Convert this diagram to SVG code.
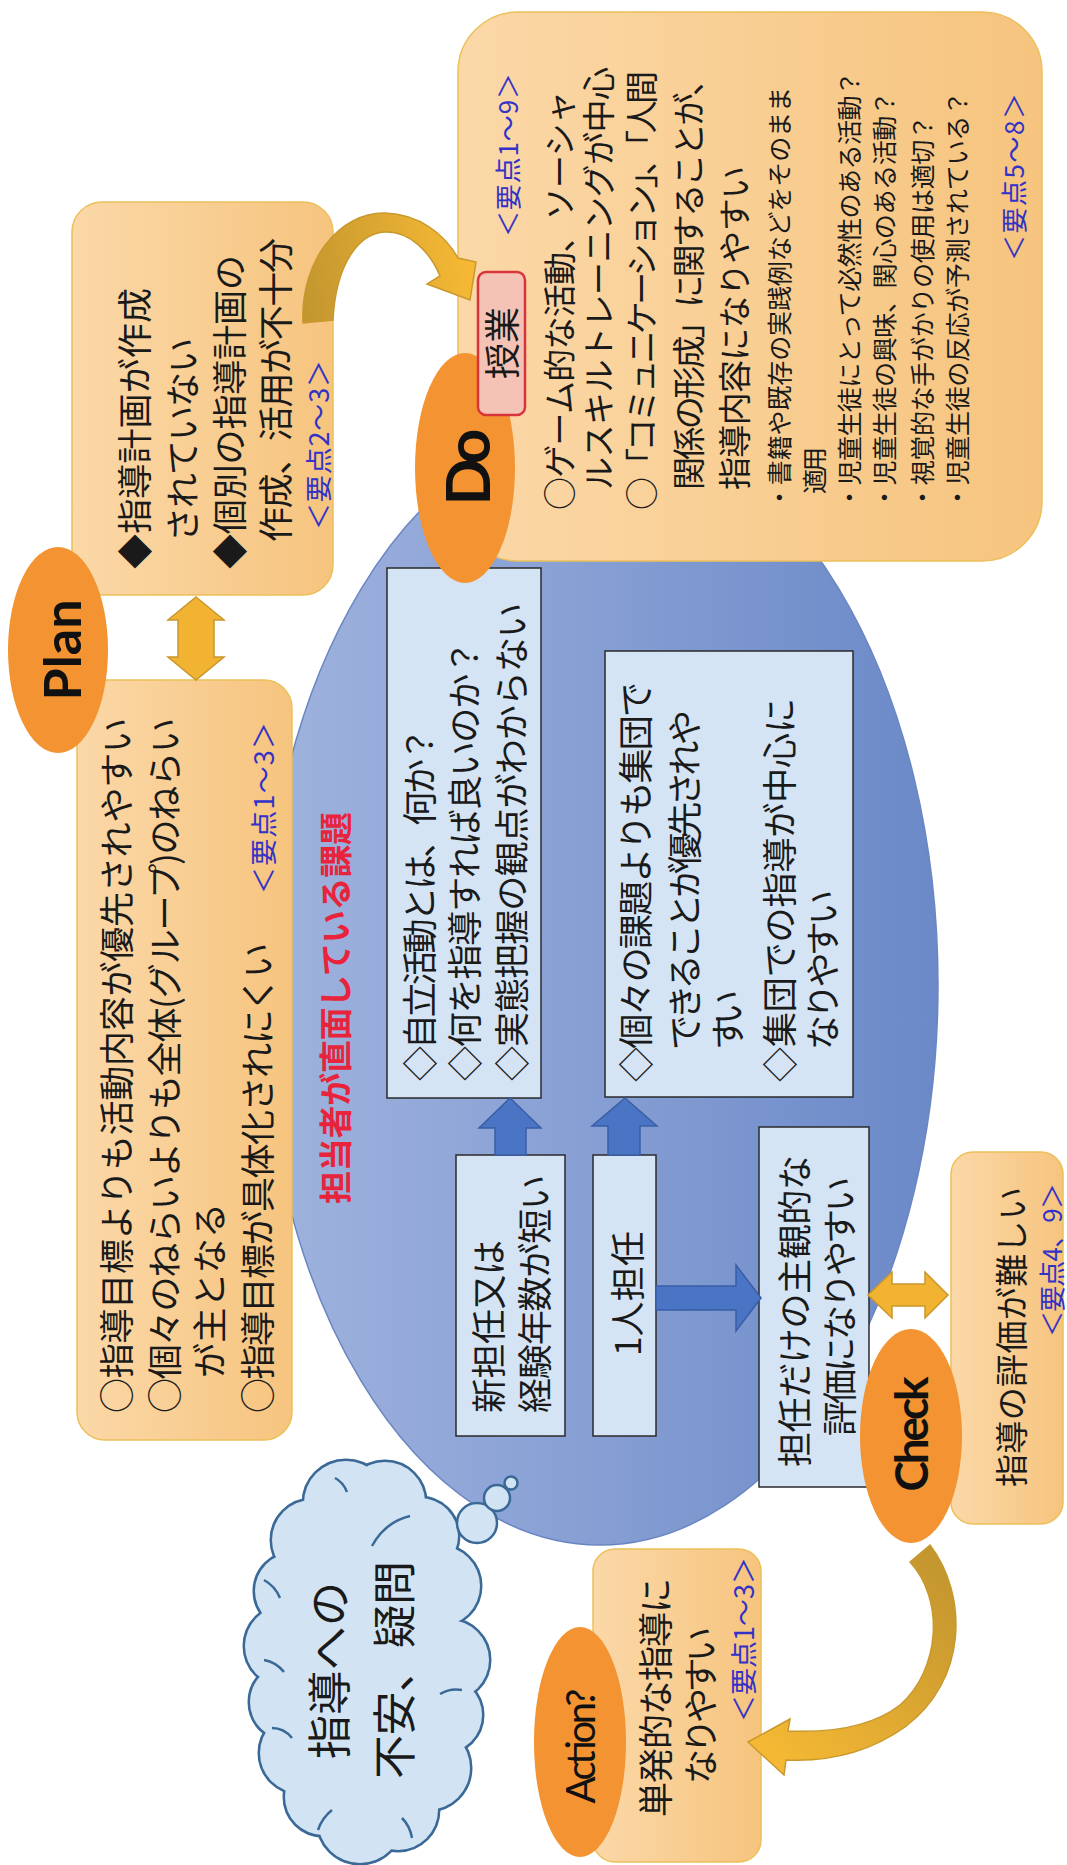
<svg xmlns="http://www.w3.org/2000/svg" width="1067" height="1865" viewBox="0 0 1067 1865">
<defs>
<linearGradient id="gBox" x1="0" y1="0" x2="1" y2="0"><stop offset="0" stop-color="#fbd8a8"/><stop offset="1" stop-color="#f6c47e"/></linearGradient>
<linearGradient id="gBlue" x1="0" y1="0" x2="1" y2="0"><stop offset="0" stop-color="#a0b3de"/><stop offset="1" stop-color="#6b89c8"/></linearGradient>
<linearGradient id="gArc1" gradientUnits="userSpaceOnUse" x1="303" y1="323" x2="476" y2="290"><stop offset="0" stop-color="#c2952f"/><stop offset="1" stop-color="#f6b934"/></linearGradient>
<linearGradient id="gArc2" gradientUnits="userSpaceOnUse" x1="930" y1="1545" x2="748" y2="1742"><stop offset="0" stop-color="#c2952f"/><stop offset="1" stop-color="#f6b934"/></linearGradient>
</defs>
<style>
.box{fill:url(#gBox);stroke:#ecc05a;stroke-width:1.5}
.rect{fill:#d4e4f4;stroke:#2a2a2a;stroke-width:1.5}
.oval{fill:#f39331}
.gold{fill:#f2b232;stroke:#c9982c;stroke-width:1.5}
.blu{fill:#4a74c4;stroke:#3a5ea6;stroke-width:1.5}
.cl{fill:#d2e4f3;stroke:#3b6997;stroke-width:5}
.clf{fill:#d2e4f3}
.arc{fill:none;stroke:#3b6997;stroke-width:2.5}
text{font-family:'Noto Sans CJK JP','Noto Sans',sans-serif;fill:#1a1a1a;dominant-baseline:central}
.m{font-size:35px}
.n{font-size:33px}
.s{font-size:25px}
.k{font-size:27px;fill:#3232c8}
.r{font-size:33px;fill:#e8243c;font-weight:bold}
.lbl{font-family:Lato,'Open Sans',sans-serif;font-weight:bold;fill:#111}
</style>

<g id="challenges">
<ellipse cx="600" cy="985" rx="338" ry="560" fill="url(#gBlue)" stroke="#6a86c2" stroke-width="1.5"/>
<g transform="translate(0 1865) rotate(-90)">
<text class="r" x="661" y="334" textLength="392">担当者が直面している課題</text>
</g>
</g>

<g id="plan-top">
<rect class="box" x="72" y="202" width="261" height="393" rx="30"/>
<g transform="translate(0 1865) rotate(-90)">
<text class="m" x="1296" y="132" textLength="281">◆指導計画が作成</text>
<text class="m" x="1323" y="180" textLength="204">されていない</text>
<text class="m" x="1296" y="227" textLength="314">◆個別の指導計画の</text>
<text class="m" x="1323" y="273" textLength="304">作成、活用が不十分</text>
<text class="k" x="1335" y="317" textLength="170">＜要点2～3＞</text>
</g>
</g>

<g id="plan-box">
<rect class="box" x="77" y="680" width="215" height="760" rx="28"/>
<g transform="translate(0 1865) rotate(-90)">
<text class="m" x="452" y="114" textLength="695">○指導目標よりも活動内容が優先されやすい</text>
<text class="m" x="452" y="162" textLength="695">○個々のねらいよりも全体(グループ)のねらい</text>
<text class="m" x="487" y="207" textLength="175">が主となる</text>
<text class="m" x="452" y="255" textLength="470">○指導目標が具体化されにくい</text>
<text class="k" x="971" y="262" textLength="172">＜要点1～3＞</text>
</g>
</g>

<g id="do-box">
<rect class="box" x="458" y="12" width="584" height="549" rx="60"/>
<g transform="translate(0 1865) rotate(-90)">
<text class="k" x="1628" y="506" textLength="164" style="font-size:26px">＜要点1～9＞</text>
<text class="n" x="1355" y="558" textLength="419">○ゲーム的な活動、ソーシャ</text>
<text class="n" x="1375" y="597" textLength="423">ルスキルトレーニングが中心</text>
<text class="n" x="1355" y="640" textLength="439">○「コミュニケーション」、「人間</text>
<text class="n" x="1375" y="687" textLength="427">関係の形成」に関することが、</text>
<text class="n" x="1375" y="733" textLength="324">指導内容になりやすい</text>
<text class="s" x="1355" y="778" textLength="423">・書籍や既存の実践例などをそのまま</text>
<text class="s" x="1371" y="813" textLength="47">適用</text>
<text class="s" x="1355" y="848" textLength="439">・児童生徒にとって必然性のある活動？</text>
<text class="s" x="1355" y="883" textLength="419">・児童生徒の興味、関心のある活動？</text>
<text class="s" x="1355" y="921" textLength="395">・視覚的な手がかりの使用は適切？</text>
<text class="s" x="1355" y="956" textLength="419">・児童生徒の反応が予測されている？</text>
<text class="k" x="1604" y="1012" textLength="168" style="font-size:26px">＜要点5～8＞</text>
</g>
</g>

<g id="check-box">
<rect class="box" x="951" y="1152" width="112" height="372" rx="22"/>
<g transform="translate(0 1865) rotate(-90)">
<text class="n" x="378" y="1010" textLength="300">指導の評価が難しい</text>
<text class="k" x="528" y="1050" textLength="154" style="font-size:26px">＜要点4、9＞</text>
</g>
</g>

<g id="action-box">
<rect class="box" x="593" y="1549" width="168" height="313" rx="22"/>
<g transform="translate(0 1865) rotate(-90)">
<text class="m" x="48" y="653" textLength="239">単発的な指導に</text>
<text class="m" x="81" y="698" textLength="157">なりやすい</text>
<text class="k" x="143" y="742" textLength="165">＜要点1～3＞</text>
</g>
</g>

<g id="rect-a">
<rect class="rect" x="387" y="568" width="154" height="530"/>
<g transform="translate(0 1865) rotate(-90)">
<text class="m" x="784" y="417" textLength="354">◇自立活動とは、何か？</text>
<text class="m" x="784" y="462" textLength="441">◇何を指導すれば良いのか？</text>
<text class="m" x="784" y="509" textLength="478">◇実態把握の観点がわからない</text>
</g>
</g>

<g id="rect-b">
<rect class="rect" x="605" y="651" width="248" height="446"/>
<g transform="translate(0 1865) rotate(-90)">
<text class="m" x="783" y="633" textLength="400">◇個々の課題よりも集団で</text>
<text class="m" x="815" y="682" textLength="340">できることが優先されや</text>
<text class="m" x="815" y="725" textLength="60">すい</text>
<text class="m" x="783" y="777" textLength="384">◇集団での指導が中心に</text>
<text class="m" x="815" y="820" textLength="160">なりやすい</text>
</g>
</g>

<g id="rect-c">
<rect class="rect" x="456" y="1155" width="109" height="281"/>
<g transform="translate(0 1865) rotate(-90)">
<text class="m" x="452" y="486" textLength="173">新担任又は</text>
<text class="m" x="452" y="532" textLength="238">経験年数が短い</text>
</g>
</g>

<g id="rect-d">
<rect class="rect" x="593" y="1155" width="63" height="281"/>
<g transform="translate(0 1865) rotate(-90)">
<text class="m" x="509" y="625" textLength="125">1人担任</text>
</g>
</g>

<g id="rect-e">
<rect class="rect" x="759" y="1127" width="110" height="360"/>
<g transform="translate(0 1865) rotate(-90)">
<text class="m" x="398" y="792" textLength="312">担任だけの主観的な</text>
<text class="m" x="429" y="837" textLength="259">評価になりやすい</text>
</g>
</g>

<g id="cloud">
<g class="cl">
<circle cx="449" cy="1660" r="40"/><circle cx="444" cy="1715" r="38"/><circle cx="428" cy="1768" r="42"/><circle cx="398" cy="1810" r="40"/><circle cx="360" cy="1821" r="42"/><circle cx="323" cy="1797" r="38"/><circle cx="300" cy="1753" r="40"/><circle cx="288" cy="1702" r="38"/><circle cx="285" cy="1646" r="40"/><circle cx="293" cy="1591" r="38"/><circle cx="312" cy="1540" r="40"/><circle cx="346" cy="1503" r="42"/><circle cx="385" cy="1502" r="40"/><circle cx="420" cy="1536" r="38"/><circle cx="440" cy="1586" r="40"/>
</g>
<g class="clf">
<circle cx="449" cy="1660" r="40"/><circle cx="444" cy="1715" r="38"/><circle cx="428" cy="1768" r="42"/><circle cx="398" cy="1810" r="40"/><circle cx="360" cy="1821" r="42"/><circle cx="323" cy="1797" r="38"/><circle cx="300" cy="1753" r="40"/><circle cx="288" cy="1702" r="38"/><circle cx="285" cy="1646" r="40"/><circle cx="293" cy="1591" r="38"/><circle cx="312" cy="1540" r="40"/><circle cx="346" cy="1503" r="42"/><circle cx="385" cy="1502" r="40"/><circle cx="420" cy="1536" r="38"/><circle cx="440" cy="1586" r="40"/>
<ellipse cx="367" cy="1660" rx="90" ry="165"/>
</g>
<path class="arc" d="M372,1546 Q385,1522 410,1516"/>
<path class="arc" d="M335,1478 Q343,1482 347,1492"/>
<path class="arc" d="M264,1580 Q275,1586 280,1598"/>
<path class="arc" d="M264,1660 Q276,1662 284,1672"/>
<path class="arc" d="M272,1728 Q284,1728 292,1738"/>
<path class="arc" d="M318,1830 Q322,1818 332,1810"/>
<path class="arc" d="M412,1838 Q410,1826 402,1818"/>
<path class="arc" d="M462,1690 Q450,1688 440,1694"/>
<g fill="#d2e4f3" stroke="#3b6997" stroke-width="2.5">
<circle cx="477" cy="1523" r="20"/><circle cx="497" cy="1498" r="13"/><circle cx="511" cy="1483" r="6.5"/>
</g>
<g transform="translate(0 1865) rotate(-90)">
<text x="106" y="327" textLength="177" style="font-size:44px">指導への</text>
<text x="86" y="392" textLength="218" style="font-size:44px">不安、疑問</text>
</g>
</g>

<g id="connectors">
<path class="gold" style="fill:url(#gArc1)" d="M303,323 C300,260 340,212 385,213 C420,214 445,235 458,258 L476,262 L470,300 L427,284 L440,276 C430,252 410,231 385,232 C360,233 336,262 333,320 Z"/>
<path class="gold" style="fill:url(#gArc2)" d="M930,1545 C968,1595 968,1680 905,1727 C870,1752 830,1762 786,1760 L784,1775 L748,1742 L790,1719 L788,1731 C830,1733 870,1728 900,1705 C940,1670 945,1600 910,1562 Z"/>
<path class="gold" d="M196,597 L224,620 L214,620 L214,657 L224,657 L196,680 L168,657 L178,657 L178,620 L168,620 Z"/>
<path class="gold" d="M868,1295 L892,1272 L892,1284 L925,1284 L925,1272 L948,1295 L925,1318 L925,1306 L892,1306 L892,1318 Z"/>
<path class="blu" d="M510,1098 L541,1128 L526,1128 L526,1155 L495,1155 L495,1128 L479,1128 Z"/>
<path class="blu" d="M625,1098 L657,1126 L640,1126 L640,1155 L608,1155 L608,1126 L592,1126 Z"/>
<path class="blu" d="M761,1298 L736,1265 L736,1286 L656,1286 L656,1310 L736,1310 L736,1331 Z"/>
</g>

<g id="plan-oval">
<ellipse class="oval" cx="58" cy="650" rx="50" ry="103"/>
<g transform="translate(0 1865) rotate(-90)"><text class="lbl" x="1215" y="61" text-anchor="middle" textLength="101" style="font-size:52px">Plan</text></g>
</g>
<g id="do-oval">
<ellipse class="oval" cx="465" cy="468" rx="50" ry="115"/>
<g transform="translate(0 1865) rotate(-90)"><text class="lbl" x="1398" y="466" text-anchor="middle" textLength="77" style="font-size:62px">Do</text></g>
</g>
<g id="lesson">
<rect x="478" y="272" width="47" height="143" rx="8" fill="#f5c3b5" stroke="#d9343c" stroke-width="2.5"/>
<g transform="translate(0 1865) rotate(-90)"><text x="1522" y="500" text-anchor="middle" style="font-size:36px">授業</text></g>
</g>
<g id="check-oval">
<ellipse class="oval" cx="911" cy="1436" rx="51" ry="107"/>
<g transform="translate(0 1865) rotate(-90)"><text class="lbl" x="431" y="910" text-anchor="middle" textLength="115" style="font-size:46px">Check</text></g>
</g>
<g id="action-oval">
<ellipse class="oval" cx="580" cy="1742" rx="46" ry="115"/>
<g transform="translate(0 1865) rotate(-90)"><text class="lbl" x="119" y="580" text-anchor="middle" textLength="115" style="font-size:40px;font-weight:normal">Action?</text></g>
</g>
</svg>
